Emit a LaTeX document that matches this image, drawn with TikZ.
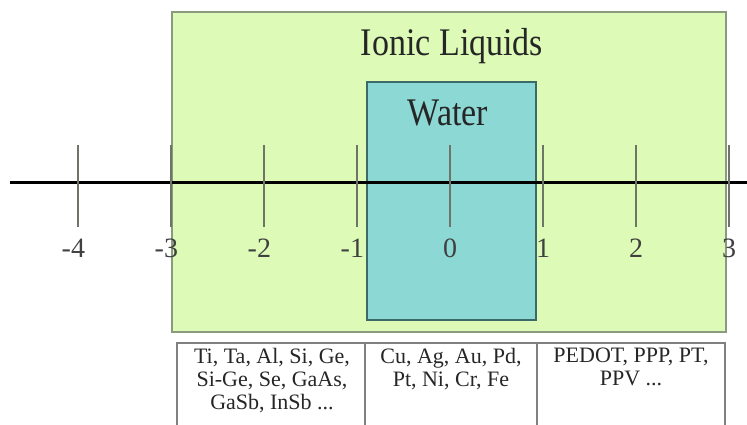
\documentclass[tikz,border=0pt]{standalone}
\usepackage{fontspec}
\setmainfont{Liberation Serif}
\definecolor{ilgreen}{HTML}{DDFBB6}
\definecolor{ilborder}{HTML}{8A9A7E}
\definecolor{watercyan}{HTML}{8CD8D4}
\definecolor{waterborder}{HTML}{3C6A68}
\definecolor{tickgray}{HTML}{6E7468}
\tikzset{
  titletext/.style={inner sep=0pt,font=\fontsize{34}{36}\selectfont,text=black!85},
  ticklabel/.style={anchor=base,inner sep=0pt,font=\fontsize{28}{30}\selectfont,text=black!75},
  mattext/.style={anchor=north,align=center,inner sep=0pt,font=\fontsize{22}{23}\selectfont,text=black!85}
}
\begin{document}
\begin{tikzpicture}[x=1pt,y=-1pt]
            \useasboundingbox (0,0) rectangle (747,425);
            \draw [ilborder,fill=ilgreen,line width=1.2pt] (172,12) rectangle (726,332);
            \node (il) [titletext] at (452,46) {\scalebox{1}[1.15]{Ionic Liquids}};
            \draw [waterborder,fill=watercyan,line width=1.2pt] (367,82) rectangle (536,320);
            \node (water) [titletext] at (448,113) {\scalebox{1}[1.15]{Water}};
            \coordinate (axl) at (10,182);
            \coordinate (axr) at (747,182);
            \draw [line width=3pt] (axl) -- (axr);
            \foreach \i in {-4,...,3} {
              \pgfmathtruncatemacro\a{abs(\i)}
              \draw [tickgray,line width=1.3pt] (450+93*\i,145) -- (450+93*\i,227);
              \node (t\a\i) [ticklabel] at (450+93*\i,257) {\ifnum\i<0 \llap{-}\fi\a};
            }
            % material boxes
            \draw [gray,line width=1.2pt] (177,440) |- (725,343) -- (725,440);
            \draw [gray,line width=1.2pt] (365,343) -- (365,440);
            \draw [gray,line width=1.2pt] (537,343) -- (537,440);
            \node (semi) [mattext] at (272,348) {Ti, Ta, Al, Si, Ge,\\Si-Ge, Se, GaAs,\\GaSb, InSb ...};
            \node (metal) [mattext] at (451,348) {Cu, Ag, Au, Pd,\\Pt, Ni, Cr, Fe};
            \node (poly) [mattext] at (631,348) {PEDOT, PPP, PT,\\PPV ...};
        \end{tikzpicture}
\end{document}
